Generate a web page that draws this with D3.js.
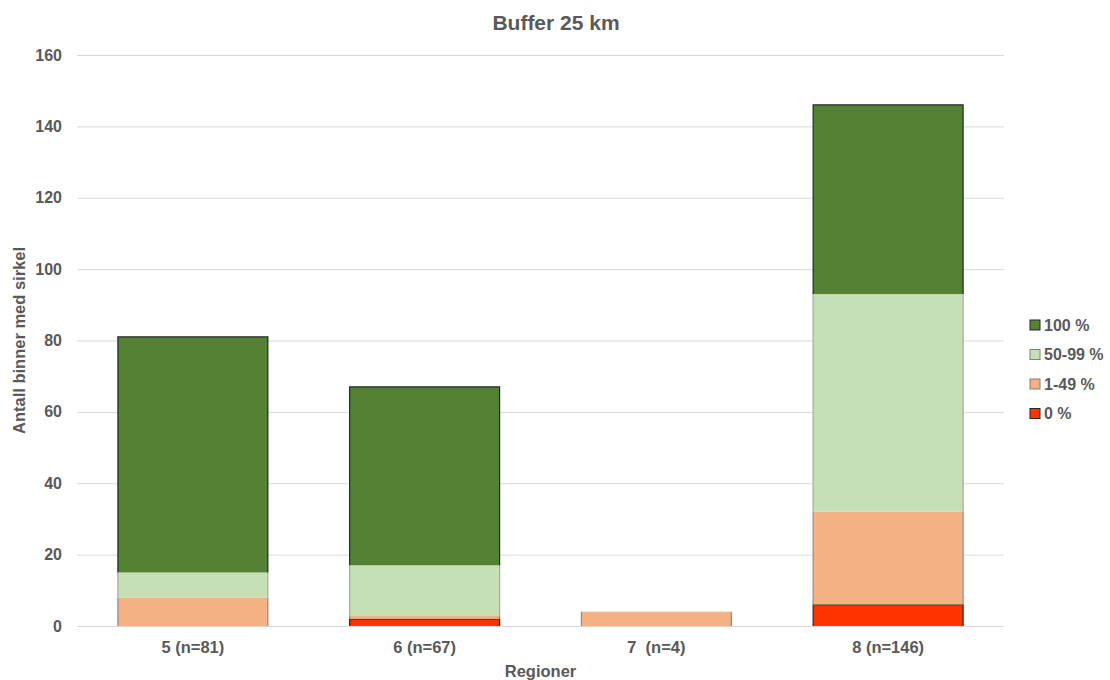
<!DOCTYPE html>
<html>
<head>
<meta charset="utf-8">
<script src="https://cdn.jsdelivr.net/npm/d3@7"></script>
<style>
  html, body { margin: 0; padding: 0; background: #fff; }
  svg text { font-family: "Liberation Sans", Arial, sans-serif; font-weight: bold; fill: #595959; }
</style>
</head>
<body>
<svg id="chart" width="1110" height="680"></svg>
<script>
// Regions and number of bins per coverage class
const regions = ["5 (n=81)", "6 (n=67)", "7  (n=4)", "8 (n=146)"];
const seriesNames = ["0 %", "1-49 %", "50-99 %", "100 %"];
const zeroPct = [0, 2, 0, 6];
const lowPct = [8, 1, 4, 26];
const midPct = [7, 14, 0, 61];
const fullPct = [66, 50, 0, 53];
const yTicks = [0, 20, 40, 60, 80, 100, 120, 140, 160];

const colors = {
  "0 %": "#FF3300",
  "1-49 %": "#F4B183",
  "50-99 %": "#C5E0B4",
  "100 %": "#548235"
};
const borders = {
  "0 %": "#262626",
  "1-49 %": "#8c8c8c",
  "50-99 %": "#a6a6a6",
  "100 %": "#262626"
};

const table = regions.map((r, i) => ({
  region: r,
  "0 %": zeroPct[i],
  "1-49 %": lowPct[i],
  "50-99 %": midPct[i],
  "100 %": fullPct[i]
}));

const svg = d3.select("#chart");
const margin = { left: 77, right: 106, top: 55, bottom: 54 };
const W = 1110, H = 680;

const x = d3.scaleBand()
  .domain(regions)
  .range([margin.left, W - margin.right])
  .paddingInner(0.353)
  .paddingOuter(0.1765);

const y = d3.scaleLinear()
  .domain([0, 160])
  .range([H - margin.bottom, margin.top]);

// Gridlines
svg.append("g")
  .selectAll("line")
  .data(yTicks)
  .join("line")
  .attr("x1", margin.left)
  .attr("x2", W - margin.right)
  .attr("y1", d => y(d) + 0.5)
  .attr("y2", d => y(d) + 0.5)
  .attr("stroke", "#d9d9d9")
  .attr("stroke-width", 1);

// Y tick labels
svg.append("g")
  .selectAll("text")
  .data(yTicks)
  .join("text")
  .attr("x", 62)
  .attr("y", d => y(d))
  .attr("dy", "0.35em")
  .attr("text-anchor", "end")
  .style("font-size", "16px")
  .text(d => d);

// Stacked bars
const stack = d3.stack().keys(seriesNames);
const layers = stack(table);

const layerG = svg.append("g")
  .selectAll("g")
  .data(layers)
  .join("g");

layerG.selectAll("rect")
  .data(d => d.map(v => ({ key: d.key, v })))
  .join("rect")
  .filter(d => d.v[1] - d.v[0] > 0)
  .attr("x", d => x(d.v.data.region))
  .attr("width", x.bandwidth())
  .attr("y", d => y(d.v[1]))
  .attr("height", d => y(d.v[0]) - y(d.v[1]))
  .attr("fill", d => colors[d.key]);

// Segment outlines: dark classes get a full border, light classes only side edges
layerG.selectAll("path")
  .data(d => d.map(v => ({ key: d.key, v })).filter(e => e.v[1] - e.v[0] > 0))
  .join("path")
  .attr("fill", "none")
  .attr("stroke", d => borders[d.key])
  .attr("stroke-width", 1.2)
  .attr("d", d => {
    const x0 = x(d.v.data.region), x1 = x0 + x.bandwidth();
    const yt = y(d.v[1]), yb = y(d.v[0]);
    if (d.key === "100 %" || d.key === "0 %") {
      return `M${x0},${yb}V${yt}H${x1}V${yb}`;
    }
    return `M${x0},${yb}V${yt}M${x1},${yt}V${yb}`;
  });

// X category labels
svg.append("g")
  .selectAll("text")
  .data(regions)
  .join("text")
  .attr("x", d => x(d) + x.bandwidth() / 2)
  .attr("y", 653)
  .attr("text-anchor", "middle")
  .style("font-size", "16.5px")
  .style("white-space", "pre")
  .attr("xml:space", "preserve")
  .text(d => d);

// Title
svg.append("text")
  .attr("x", 556)
  .attr("y", 30)
  .attr("text-anchor", "middle")
  .style("font-size", "21px")
  .text("Buffer 25 km");

// Axis titles
svg.append("text")
  .attr("x", (margin.left + W - margin.right) / 2)
  .attr("y", 677)
  .attr("text-anchor", "middle")
  .style("font-size", "16.5px")
  .text("Regioner");

svg.append("text")
  .attr("transform", `translate(25, ${(margin.top + H - margin.bottom) / 2}) rotate(-90)`)
  .attr("text-anchor", "middle")
  .style("font-size", "16.5px")
  .text("Antall binner med sirkel");

// Legend (top class first)
const legendItems = seriesNames.slice().reverse();
const legend = svg.append("g")
  .selectAll("g")
  .data(legendItems)
  .join("g")
  .attr("transform", (d, i) => `translate(1030, ${325 + i * 29.5})`);

legend.append("rect")
  .attr("x", 0)
  .attr("y", -5)
  .attr("width", 10)
  .attr("height", 10)
  .attr("fill", d => colors[d])
  .attr("stroke", d => (d === "100 %" || d === "0 %") ? "#262626" : "#7f7f7f")
  .attr("stroke-width", 1);

legend.append("text")
  .attr("x", 14)
  .attr("y", 0)
  .attr("dy", "0.35em")
  .style("font-size", "16px")
  .text(d => d);
</script>
</body>
</html>
